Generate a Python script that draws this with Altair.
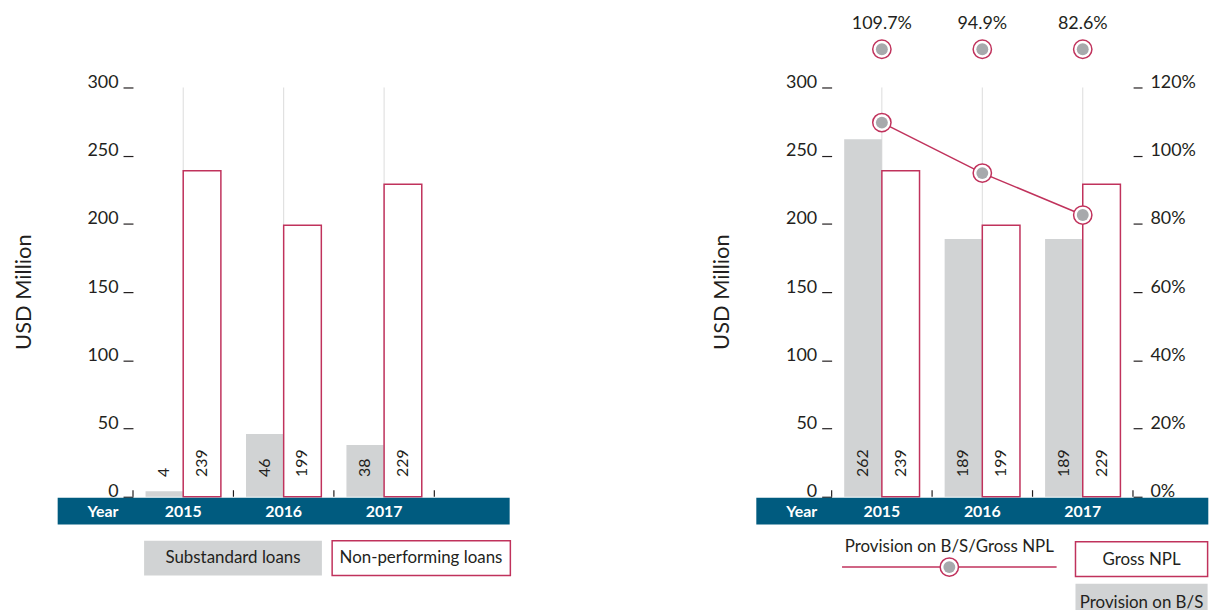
import altair as alt
import pandas as pd

# ---------------- data ----------------
YEARS = ["2015", "2016", "2017"]
SUBSTANDARD = [4, 46, 38]
NON_PERFORMING = [239, 199, 229]
PROVISION_BS = [262, 189, 189]
GROSS_NPL = [239, 199, 229]
COVERAGE = [109.7, 94.9, 82.6]
COVERAGE_LABELS = ["109.7%", "94.9%", "82.6%"]
USD_TICKS = [0, 50, 100, 150, 200, 250, 300]
PCT_TICKS = [0, 20, 40, 60, 80, 100, 120]

LEFT_SERIES = ["Substandard loans", "Non-performing loans"]
RIGHT_SERIES = ["Provision on B/S", "Gross NPL"]
LINE_NAME = "Provision on B/S/Gross NPL"
Y_TITLE = "USD Million"
X_TITLE = "Year"

# ---------------- style ----------------
FONT = "Lato"
INK = "#231F20"
CRIMSON = "#C0325C"
GREY = "#D1D3D4"
DOT_GREY = "#A7A9AC"
BLUE = "#005B7F"
GRID = "#DCDCDC"
W, H = 455, 412
AXIS_IN = 75.8
# fractions of each year band: [left bar start, split, right bar end]
BAR_EDGES = [0.125, 0.5, 0.875]

one = pd.DataFrame({"k": [0]})
years_df = pd.DataFrame({"year": YEARS})

xscale = alt.Scale(domain=YEARS, paddingInner=0, paddingOuter=0.75)
yscale = alt.Scale(domain=[0, 300], nice=False, zero=True)
y_axis = alt.Axis(values=USD_TICKS, offset=-AXIS_IN, tickSize=10, tickWidth=1.2,
                  tickColor=INK, domain=False, grid=False, title=None,
                  labelFont=FONT, labelFontSize=18, labelColor=INK, labelPadding=5,
                  labelBaseline="alphabetic", labelOffset=0)


def X(**kw):
    return alt.X("year:N", scale=xscale, axis=None, **kw)


def text_at(txt, x, y, size=17, color=INK, weight="normal", angle=0):
    return alt.Chart(pd.DataFrame({"t": [txt]})).mark_text(
        font=FONT, fontSize=size, color=color, fontWeight=weight,
        align="center", baseline="middle", angle=angle
    ).encode(x=alt.value(x), y=alt.value(y), text="t:N")


def rect_at(x, x2, y, y2, **style):
    return alt.Chart(one).mark_rect(**style).encode(
        x=alt.value(x), x2=alt.value(x2), y=alt.value(y), y2=alt.value(y2))


def bar_layers(series_names, first_vals, second_vals):
    df1 = pd.DataFrame({"year": YEARS, "value": list(first_vals)})
    df2 = pd.DataFrame({"year": YEARS, "value": list(second_vals)})
    y = alt.Y("value:Q", scale=yscale, axis=y_axis)
    a, m, b = BAR_EDGES

    grid = alt.Chart(years_df).mark_rule(color=GRID, strokeWidth=1).encode(
        x=X(), y=alt.YDatum(0, type="quantitative", scale=yscale, axis=y_axis),
        y2=alt.datum(300))
    grey = alt.Chart(df1).mark_bar(color=GREY).encode(
        x=X(bandPosition=a), x2=alt.X2("year", bandPosition=m), y=y, y2=alt.datum(0))
    red = alt.Chart(df2).mark_bar(fill="white", stroke=CRIMSON, strokeWidth=1.5).encode(
        x=X(bandPosition=m), x2=alt.X2("year", bandPosition=b), y=y, y2=alt.datum(0))
    lab_style = dict(font=FONT, fontSize=16, color=INK, angle=270, align="left", baseline="middle")
    lab1 = alt.Chart(df1).mark_text(**lab_style).encode(
        x=X(bandPosition=(a + m) / 2), y=alt.datum(14.5), text="value:Q")
    lab2 = alt.Chart(df2).mark_text(**lab_style).encode(
        x=X(bandPosition=(m + b) / 2), y=alt.datum(14.5), text="value:Q")
    bounds_a = alt.Chart(years_df).mark_rule(color=INK, strokeWidth=1.2).encode(
        x=X(bandPosition=0), y=alt.datum(0), y2=alt.datum(4.8))
    bounds_b = alt.Chart(pd.DataFrame({"year": [YEARS[-1]]})).mark_rule(
        color=INK, strokeWidth=1.2).encode(x=X(bandPosition=1), y=alt.datum(0), y2=alt.datum(4.8))
    band = rect_at(0, W, H + 1, H + 28, color=BLUE)
    year_lbl = alt.Chart(years_df).mark_text(
        font=FONT, fontSize=16, fontWeight="bold", color="white", baseline="middle"
    ).encode(x=X(), y=alt.value(H + 15.5), text="year:N")
    year_ttl = text_at(X_TITLE, 45.7, H + 15.5, size=16, color="white", weight="bold")
    ytitle = text_at(Y_TITLE, -34.2, H / 2, size=22, angle=270)
    return [grid, grey, red, lab1, lab2, bounds_a, bounds_b, band, year_lbl, year_ttl, ytitle]


# ---------------- left panel ----------------
anchor = rect_at(-48.6, -47.6, -77.5, -76.5, opacity=0)
left_legend = [
    rect_at(87, 266, 456.2, 491.2, color=GREY),
    text_at(LEFT_SERIES[0], 176.5, 473.5),
    rect_at(276.3, 455.7, 456.2, 491.2, fill="white", stroke=CRIMSON, strokeWidth=1.5),
    text_at(LEFT_SERIES[1], 365.7, 473.5),
]
left = alt.layer(anchor, *bar_layers(LEFT_SERIES, SUBSTANDARD, NON_PERFORMING),
                 *left_legend).properties(width=W, height=H)

# ---------------- right panel ----------------
cov_df = pd.DataFrame({"year": YEARS, "coverage": COVERAGE, "label": COVERAGE_LABELS})

top_lbl = alt.Chart(cov_df).mark_text(font=FONT, fontSize=18, color=INK, baseline="middle").encode(
    x=X(), y=alt.value(-63.5), text="label:N")
top_outer = alt.Chart(cov_df).mark_circle(fill="white", stroke=CRIMSON, strokeWidth=1.5,
                                          size=340, opacity=1).encode(x=X(), y=alt.value(-38.5))
top_inner = alt.Chart(cov_df).mark_circle(color=DOT_GREY, size=144, opacity=1).encode(
    x=X(), y=alt.value(-38.5))

leg_line = alt.Chart(one).mark_rule(color=CRIMSON, strokeWidth=1.5).encode(
    x=alt.value(86.3), x2=alt.value(302.3), y=alt.value(482.8))
leg_outer = alt.Chart(one).mark_circle(fill="white", stroke=CRIMSON, strokeWidth=1.5,
                                       size=340, opacity=1).encode(x=alt.value(194.3), y=alt.value(482.8))
leg_inner = alt.Chart(one).mark_circle(color=DOT_GREY, size=144, opacity=1).encode(
    x=alt.value(194.3), y=alt.value(482.8))
right_legend = [
    text_at(LINE_NAME, 194.3, 462.5),
    leg_line, leg_outer, leg_inner,
    rect_at(321.3, 454.3, 457.2, 492.2, fill="white", stroke=CRIMSON, strokeWidth=1.5),
    text_at(RIGHT_SERIES[1], 387.8, 475.2),
    rect_at(321.3, 454.3, 499.5, 526, color=GREY),
    text_at(RIGHT_SERIES[0], 387.8, 518.5),
]

bars_group = alt.layer(*bar_layers(RIGHT_SERIES, PROVISION_BS, GROSS_NPL),
                       top_lbl, top_outer, top_inner, *right_legend)

pct_scale = alt.Scale(domain=[0, 120], nice=False, zero=True)
pct_axis = alt.Axis(values=PCT_TICKS, orient="right", offset=-(W - 379.3), tickSize=9,
                    tickWidth=1.2, tickColor=INK, domain=False, grid=False, title=None,
                    labelFont=FONT, labelFontSize=18, labelColor=INK, labelPadding=8,
                    labelBaseline="alphabetic", labelOffset=0,
                    labelExpr="datum.value + '%'")
ly = alt.Y("coverage:Q", scale=pct_scale, axis=pct_axis)
line = alt.Chart(cov_df).mark_line(color=CRIMSON, strokeWidth=1.5).encode(x=X(), y=ly)
pt_outer = alt.Chart(cov_df).mark_circle(fill="white", stroke=CRIMSON, strokeWidth=1.5,
                                         size=340, opacity=1).encode(x=X(), y=ly)
pt_inner = alt.Chart(cov_df).mark_circle(color=DOT_GREY, size=144, opacity=1).encode(x=X(), y=ly)
line_group = alt.layer(line, pt_outer, pt_inner)

right = alt.layer(bars_group, line_group).resolve_scale(y="independent").properties(
    width=W, height=H)

chart = alt.hconcat(left, right, spacing=248.3, bounds="flush").properties(
    padding=0
).configure(font=FONT).configure_view(stroke="transparent")

chart.save("out.html", embed_options={"renderer": "svg", "actions": False})
